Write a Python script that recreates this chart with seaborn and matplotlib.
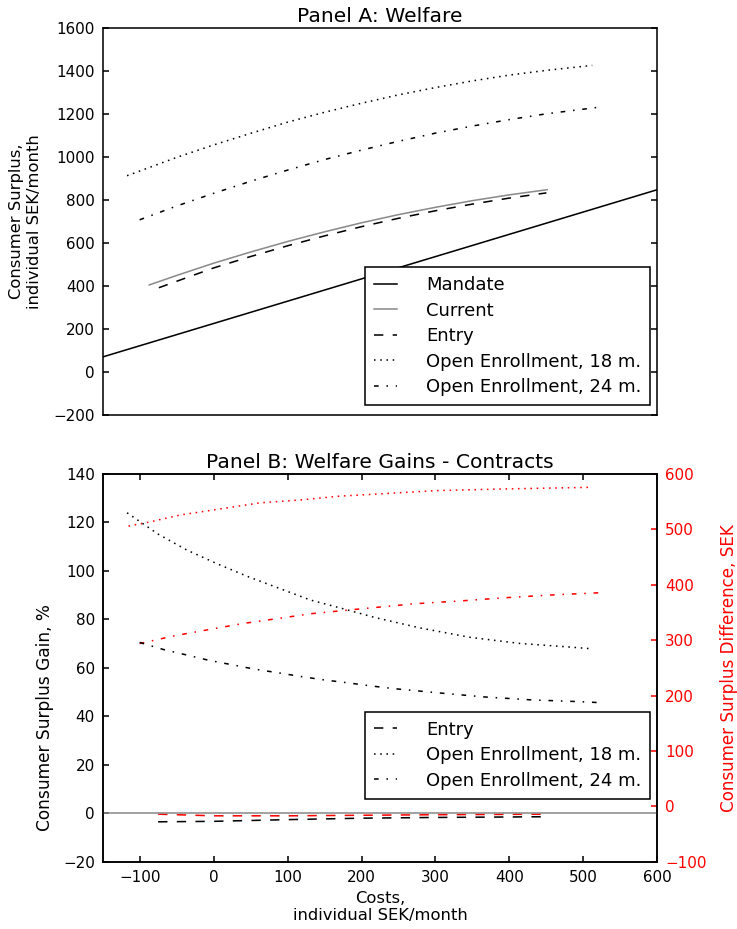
import matplotlib
matplotlib.use("Agg")
import matplotlib.pyplot as plt
import seaborn as sns

# ---------------- data ----------------
mandate_x = [-150, 600]
mandate_y = [70, 848]

current_x = [-87, -50, 0, 50, 100, 150, 200, 250, 300, 350, 400, 451]
current_y = [405, 449, 506, 558, 607, 652, 694, 732, 766, 797, 824, 848]

entry_x = [-74, 0, 50, 100, 150, 200, 250, 300, 350, 400, 450]
entry_y = [392, 484, 537, 587, 633, 676, 715, 750, 781, 809, 833]

oe18_x = [-117, -50, 0, 50, 100, 150, 200, 250, 300, 350, 400, 450, 512]
oe18_y = [913, 998, 1056, 1110, 1162, 1208, 1250, 1289, 1323, 1354, 1381, 1403, 1426]

oe24_x = [-100, -50, 0, 50, 100, 150, 200, 250, 300, 350, 400, 450, 527]
oe24_y = [708, 772, 831, 887, 939, 988, 1032, 1073, 1111, 1144, 1174, 1201, 1234]

# Panel B: percentage gains (left axis)
gain_entry_x = [-75, 0, 100, 200, 300, 450]
gain_entry_pct = [-3.5, -3.3, -2.6, -2.0, -1.7, -1.4]

gain18_x = [-117, -75, -36, 6, 47, 89, 131, 174, 218, 279, 347, 414, 482, 511]
gain18_pct = [124, 115.2, 108.6, 102.8, 97.6, 92.8, 88, 84.5, 80.8, 76.5, 72.6, 70.1, 68.6, 67.9]

gain24_x = [-100, -68, -36, -6, 25, 55, 87, 117, 148, 180, 212, 242, 304, 367, 430, 493, 527]
gain24_pct = [70.5, 67.6, 65.3, 63.1, 61.3, 59.5, 58, 56.5, 55.1, 53.9, 52.6, 51.5, 49.7, 48, 46.8, 46.1, 45.6]

# Panel B: differences in SEK (right axis)
diff_entry_x = [-75, 0, 100, 200, 300, 450]
diff_entry = [-14, -17, -17, -16, -15, -14]

diff18_x = [-115, -88, -45, 9, 63, 116, 170, 223, 301, 392, 511]
diff18 = [506, 513, 526, 537, 548, 553, 560, 564, 570, 573, 576]

diff24_x = [-100, -53, -7, 39, 86, 133, 179, 210, 274, 335, 398, 462, 527]
diff24 = [294, 308, 319, 330, 339, 348, 354, 358, 366, 371, 377, 382, 386]

labels_A = ["Mandate", "Current", "Entry", "Open Enrollment, 18 m.", "Open Enrollment, 24 m."]
labels_B = ["Entry", "Open Enrollment, 18 m.", "Open Enrollment, 24 m."]

xticks = [-100, 0, 100, 200, 300, 400, 500, 600]
yticks_A = [-200, 0, 200, 400, 600, 800, 1000, 1200, 1400, 1600]
yticks_B = [-20, 0, 20, 40, 60, 80, 100, 120, 140]
yticks_B2 = [-100, 0, 100, 200, 300, 400, 500, 600]

# ---------------- style ----------------
plt.rcParams.update({
    "font.family": ["DejaVu Sans"],
    "xtick.direction": "in", "ytick.direction": "in",
    "xtick.top": True, "ytick.right": True,
    "xtick.major.size": 4, "ytick.major.size": 4,
    "xtick.major.width": 1.0, "ytick.major.width": 1.0,
    "axes.linewidth": 1.0,
    "axes.edgecolor": "black",
    "xtick.labelsize": 9.7, "ytick.labelsize": 9.7,
    "xtick.major.pad": 5, "ytick.major.pad": 5,
    "lines.linewidth": 1.0,
    "figure.facecolor": "white",
    "axes.facecolor": "white",
})

DOT = (0, (1, 3))
DASH = (0, (6, 6))
DASHDOT = (0, (3, 5, 1, 5))
GRAY = "#8a8a8a"
LEG_FS = 11.6
LAB_FS = 10.5
TITLE_FS = 13

DPI = 112
fig = plt.figure(figsize=(737 / DPI, 929 / DPI), dpi=DPI)
axA = fig.add_axes([0.1393, 0.55328, 0.7526, 0.41658])
axB = fig.add_axes([0.1393, 0.07233, 0.7526, 0.41744])


def line(ax, x, y, color, ls):
    sns.lineplot(x=x, y=y, ax=ax, color=color, linestyle=ls, lw=1.0,
                 sort=False, estimator=None)
    return ax.get_lines()[-1]


def legend(ax, handles, labels, top_px):
    leg = ax.legend(handles, labels, loc="upper left",
                    bbox_to_anchor=(365 / 737, 1 - top_px / 929), bbox_transform=fig.transFigure,
                    borderaxespad=0, fontsize=LEG_FS, frameon=True, fancybox=False,
                    edgecolor="black", framealpha=1, handlelength=1.28, handletextpad=1.6,
                    labelspacing=0.41, borderpad=0.5)
    leg.get_frame().set_linewidth(1.0)
    return leg


# ---------------- Panel A ----------------
hA = [
    line(axA, mandate_x, mandate_y, "black", "-"),
    line(axA, current_x, current_y, GRAY, "-"),
    line(axA, entry_x, entry_y, "black", DASH),
    line(axA, oe18_x, oe18_y, "black", DOT),
    line(axA, oe24_x, oe24_y, "black", DASHDOT),
]
axA.set_xlim(-150, 600)
axA.set_ylim(-200, 1600)
axA.set_xticks([])
axA.set_yticks(yticks_A)
axA.set_title("Panel A: Welfare", fontsize=TITLE_FS, pad=4)
axA.set_ylabel("Consumer Surplus,\nindividual SEK/month", fontsize=LAB_FS, labelpad=7.5)
legend(axA, hA, labels_A, 267.3)

# ---------------- Panel B ----------------
axB.axhline(0, color=GRAY, lw=1.0)
hB = [
    line(axB, gain_entry_x, gain_entry_pct, "black", DASH),
    line(axB, gain18_x, gain18_pct, "black", DOT),
    line(axB, gain24_x, gain24_pct, "black", DASHDOT),
]
axB.set_xlim(-150, 600)
axB.set_ylim(-20, 140)
axB.set_xticks(xticks)
axB.set_yticks(yticks_B)
axB.set_title("Panel B: Welfare Gains - Contracts", fontsize=TITLE_FS, pad=4)
axB.set_ylabel("Consumer Surplus Gain, %", fontsize=10.9)
axB.yaxis.set_label_coords(-0.088, 0.371)
axB.set_xlabel("Costs,\nindividual SEK/month", fontsize=LAB_FS, labelpad=4)

ax2 = axB.twinx()
line(ax2, diff_entry_x, diff_entry, "red", DASH)
line(ax2, diff18_x, diff18, "red", DOT)
line(ax2, diff24_x, diff24, "red", DASHDOT)
ax2.set_ylim(-100, 600)
ax2.set_yticks(yticks_B2)
ax2.tick_params(axis="y", colors="red", direction="in", labelsize=9.7)
ax2.set_ylabel("Consumer Surplus Difference, SEK", color="red", fontsize=10.8, labelpad=8.5)
ax2.spines["right"].set_color("black")

legend(axB, hB, labels_B, 711.7)
axB.set_zorder(ax2.get_zorder() + 1)
axB.patch.set_visible(False)

fig.savefig("out.png", dpi=DPI, facecolor="white")
